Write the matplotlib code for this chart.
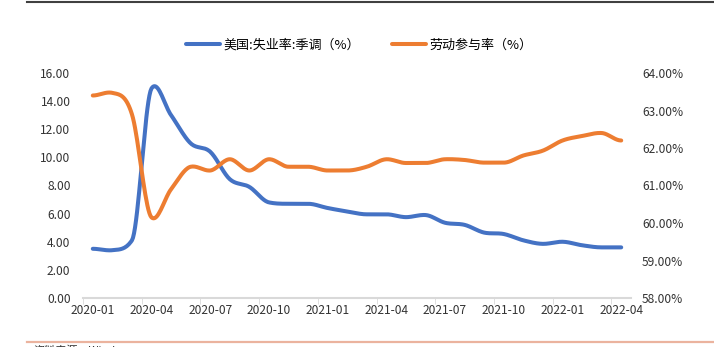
import numpy as np
import matplotlib.pyplot as plt
from matplotlib.lines import Line2D

plt.rcParams['font.family'] = ['Noto Sans CJK SC', 'DejaVu Sans']

months = ['2020-01', '2020-02', '2020-03', '2020-04', '2020-05', '2020-06', '2020-07',
          '2020-08', '2020-09', '2020-10', '2020-11', '2020-12', '2021-01', '2021-02',
          '2021-03', '2021-04', '2021-05', '2021-06', '2021-07', '2021-08', '2021-09',
          '2021-10', '2021-11', '2021-12', '2022-01', '2022-02', '2022-03', '2022-04']
unemp = [3.5, 3.4, 4.1, 14.9, 13.0, 11.0, 10.4, 8.45, 7.9, 6.8, 6.7, 6.7, 6.4, 6.15,
         5.95, 5.95, 5.75, 5.9, 5.35, 5.2, 4.65, 4.55, 4.1, 3.85, 4.0, 3.75, 3.6, 3.6]
lfpr = [63.4, 63.47, 62.9, 60.15, 60.9, 61.5, 61.4, 61.7, 61.4, 61.7, 61.5, 61.5, 61.4, 61.4,
        61.5, 61.7, 61.6, 61.6, 61.7, 61.68, 61.61, 61.61, 61.8, 61.93, 62.2, 62.32, 62.4, 62.2]
label1 = '美国:失业率:季调（%）'
label2 = '劳动参与率（%）'


def smooth(x, y, n=20):
    # smoothed line: catmull-rom tangents, damped at peaks and steep steps
    x = np.asarray(x, float)
    y = np.asarray(y, float)
    d = np.diff(y)
    m = np.zeros_like(y)
    m[1:-1] = (y[2:] - y[:-2]) / 2
    for i in range(1, len(y) - 1):
        if d[i - 1] * d[i] < 0:
            m[i] *= 0.5
        else:
            lim = 3 * min(abs(d[i - 1]), abs(d[i]))
            m[i] = np.clip(m[i], -lim, lim)
    t = np.linspace(0, 1, n)
    xs, ys = [], []
    for i in range(len(y) - 1):
        h00 = 2 * t ** 3 - 3 * t ** 2 + 1
        h10 = t ** 3 - 2 * t ** 2 + t
        h01 = -2 * t ** 3 + 3 * t ** 2
        h11 = t ** 3 - t ** 2
        xs.extend(x[i] + t * (x[i + 1] - x[i]))
        ys.extend(h00 * y[i] + h10 * m[i] + h01 * y[i + 1] + h11 * m[i + 1])
    return np.array(xs), np.array(ys)


fig = plt.figure(figsize=(7.14, 3.47), dpi=100)
ax = fig.add_axes([83 / 714, 1 - 298 / 347, (631 - 83) / 714, (298 - 73) / 347])
ax2 = ax.twinx()

xi = np.arange(len(months))
sx, sy = smooth(xi, unemp)
l1, = ax.plot(sx, sy, color='#4472C4', lw=2.9, solid_capstyle='round')
sx2, sy2 = smooth(xi, lfpr)
l2, = ax2.plot(sx2, sy2, color='#ED7D31', lw=2.9, solid_capstyle='round')

ax.set_xlim(-0.5, len(months) - 0.5)
ax.set_ylim(0, 16)
ax.set_yticks(np.arange(0, 17, 2))
ax.set_yticklabels(['%.2f' % v for v in np.arange(0, 17, 2)])
ax2.set_ylim(58, 64)
ax2.set_yticks(np.arange(58, 65, 1))
ax2.set_yticklabels(['%.2f%%' % v for v in np.arange(58, 65, 1)])

ax.set_xticks(xi[::3])
ax.set_xticklabels(months[::3])
ax.set_xticks(np.arange(-0.5, len(months) - 1, 3), minor=True)
ax.tick_params(axis='x', which='major', length=0, pad=4, labelsize=8.6, colors='#333333')
ax.tick_params(axis='x', which='minor', length=4, color='#D9D9D9', direction='out')
ax.tick_params(axis='y', length=0, pad=9, labelsize=8.6, colors='#333333')
ax2.tick_params(axis='y', length=0, pad=8, labelsize=8.6, colors='#333333')

for a in (ax, ax2):
    for s in ['top', 'left', 'right', 'bottom']:
        a.spines[s].set_visible(False)
ax.spines['bottom'].set_visible(True)
ax.spines['bottom'].set_color('#D9D9D9')
ax.spines['bottom'].set_linewidth(1.5)

fig.legend([l1, l2], [label1, label2], loc='center', bbox_to_anchor=(0.503, 1 - 45 / 347),
           ncol=2, frameon=False, fontsize=9.4, handlelength=2.6, handletextpad=0.25,
           columnspacing=2.5)

fig.add_artist(Line2D([27 / 714, 1], [1 - 1.5 / 347] * 2, color='#404040', lw=1.5))
fig.add_artist(Line2D([27 / 714, 1], [1 - 341.5 / 347] * 2, color='#EBB39E', lw=1.6))
fig.text(33 / 714, 1 - 345 / 347, '资料来源：Wind', fontsize=8, va='top', color='#333333')

fig.savefig('out.png', dpi=100)
